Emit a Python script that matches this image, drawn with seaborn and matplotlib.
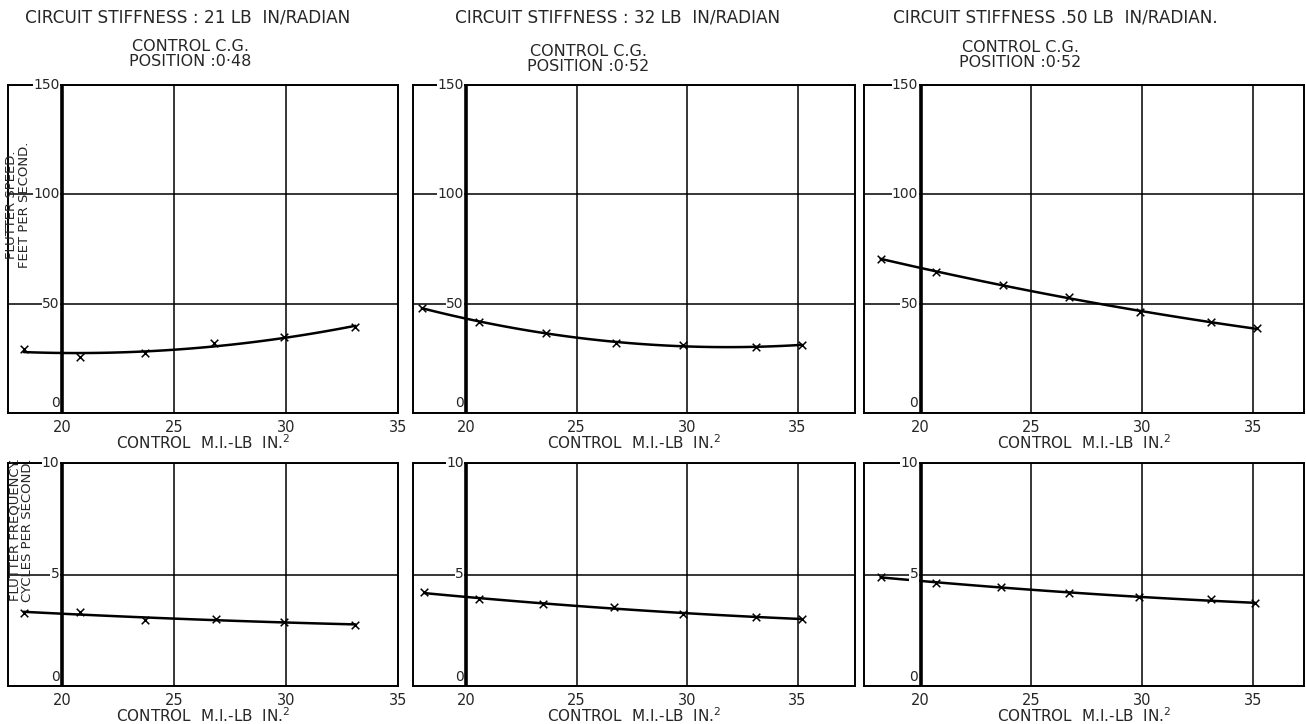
import numpy as np
import pandas as pd
import matplotlib
matplotlib.use("Agg")
import matplotlib.pyplot as plt
import seaborn as sns

# ---------------- data ----------------
stiffness_titles = ["CIRCUIT STIFFNESS : 21 LB  IN/RADIAN",
                    "CIRCUIT STIFFNESS : 32 LB  IN/RADIAN",
                    "CIRCUIT STIFFNESS .50 LB  IN/RADIAN."]
cg_titles = ["CONTROL C.G.\nPOSITION :0·48",
             "CONTROL C.G.\nPOSITION :0·52",
             "CONTROL C.G.\nPOSITION :0·52"]

x_speed_21 = [18.3, 20.8, 23.7, 26.8, 29.9, 33.1]
speed_21 = [29.2, 25.5, 27.4, 32.0, 34.7, 39.3]
x_speed_32 = [18.0, 20.6, 23.6, 26.8, 29.8, 33.1, 35.2]
speed_32 = [48.0, 41.7, 36.8, 31.8, 31.2, 30.0, 31.2]
x_speed_50 = [18.2, 20.7, 23.7, 26.7, 29.9, 33.1, 35.2]
speed_50 = [70.5, 64.5, 58.7, 53.0, 46.0, 41.4, 38.7]

x_freq_21 = [18.3, 20.8, 23.7, 26.9, 29.9, 33.1]
freq_21 = [3.29, 3.32, 2.95, 2.99, 2.87, 2.75]
x_freq_32 = [18.1, 20.6, 23.5, 26.7, 29.8, 33.1, 35.2]
freq_32 = [4.20, 3.89, 3.68, 3.56, 3.22, 3.11, 3.00]
x_freq_50 = [18.2, 20.7, 23.65, 26.7, 29.85, 33.1, 35.1]
freq_50 = [4.88, 4.63, 4.44, 4.19, 3.97, 3.88, 3.70]

x_ticks = [20, 25, 30, 35]
speed_ticks = [0, 50, 100, 150]
freq_ticks = [0, 5, 10]
x_label = "CONTROL  M.I.-LB  IN.$^2$"
speed_label = "FLUTTER SPEED.\nFEET PER SECOND."
freq_label = "FLUTTER FREQUENCY.\nCYCLES PER SECOND."

# ---------------- style ----------------
sns.set_theme(style="white")
plt.rcParams["font.family"] = ["DejaVu Sans"]

W, H = 1306, 724
fig = plt.figure(figsize=(W / 100, H / 100), dpi=100)
fig.patch.set_facecolor("white")


def px(l, t, r, b):
    return [l / W, 1 - b / H, (r - l) / W, (b - t) / H]


col_px = [(8, 398), (413, 855), (864, 1304)]
col_xlim = [(17.6, 35.0), (17.6, 37.6), (17.45, 37.3)]
row_px = [(85, 413), (463, 686)]

speed_sets = [(x_speed_21, speed_21), (x_speed_32, speed_32), (x_speed_50, speed_50)]
freq_sets = [(x_freq_21, freq_21), (x_freq_32, freq_32), (x_freq_50, freq_50)]


def draw_panel(ax, xs, ys, xlim, ylim, yticks):
    ax.set_xlim(*xlim)
    ax.set_ylim(*ylim)
    ax.set_facecolor("white")
    ax.set_xticks(x_ticks)
    ax.set_yticks(yticks)
    ax.grid(True, color="black", linewidth=1.1)
    ax.tick_params(left=False, labelleft=False, bottom=False,
                   labelsize=10.5, pad=-1)
    for s in ax.spines.values():
        s.set_visible(True)
        s.set_color("black")
        s.set_linewidth(1.4)
    ax.axvline(20, color="black", linewidth=2.6, zorder=2)
    # smooth faired curve through the points
    coef = np.polyfit(xs, ys, 2)
    xf = np.linspace(min(xs), max(xs), 100)
    df_fit = pd.DataFrame({"x": xf, "y": np.polyval(coef, xf)})
    sns.lineplot(data=df_fit, x="x", y="y", ax=ax, color="black",
                 linewidth=1.8, zorder=4)
    df_pts = pd.DataFrame({"x": xs, "y": ys})
    sns.scatterplot(data=df_pts, x="x", y="y", ax=ax, marker="x",
                    color="black", s=30, linewidth=1.1, zorder=5)
    ax.set_ylabel("")
    ax.set_xlabel(x_label, fontsize=11, labelpad=-1)
    # y tick labels drawn beside the x=20 axis line
    for v in yticks:
        if v == 0:
            ax.text(19.9, 0.01 * (ylim[1] - ylim[0]), f"{v:d}", ha="right",
                    va="bottom", fontsize=10, zorder=6)
        else:
            ax.text(19.9, v, f"{v:d}", ha="right", va="center",
                    fontsize=10, zorder=6,
                    bbox=dict(facecolor="white", edgecolor="none", pad=0.3))


for r, (sets, ylim, yticks) in enumerate([(speed_sets, (0, 150), speed_ticks),
                                           (freq_sets, (0, 10), freq_ticks)]):
    t, b = row_px[r]
    for c in range(3):
        l, rr = col_px[c]
        ax = fig.add_axes(px(l, t, rr, b))
        xs, ys = sets[c]
        draw_panel(ax, xs, ys, col_xlim[c], ylim, yticks)

# y-axis labels
fig.text(18 / W, 1 - 205 / H, speed_label, rotation=90, ha="center",
         va="center", fontsize=9.5, linespacing=0.92, zorder=7)
fig.text(21 / W, 1 - 530 / H, freq_label, rotation=90, ha="center",
         va="center", fontsize=9.5, linespacing=0.92, zorder=7)

# titles
title_x = [25, 455, 893]
for c in range(3):
    fig.text(title_x[c] / W, 1 - 17 / H, stiffness_titles[c], ha="left",
             va="center", fontsize=12.2)
cg_x = [190, 588, 1020]
cg_y = [54, 59, 55]
for c in range(3):
    fig.text(cg_x[c] / W, 1 - cg_y[c] / H, cg_titles[c], ha="center",
             va="center", fontsize=11.5, linespacing=1.05)

fig.savefig("out.png", dpi=100, facecolor="white")
